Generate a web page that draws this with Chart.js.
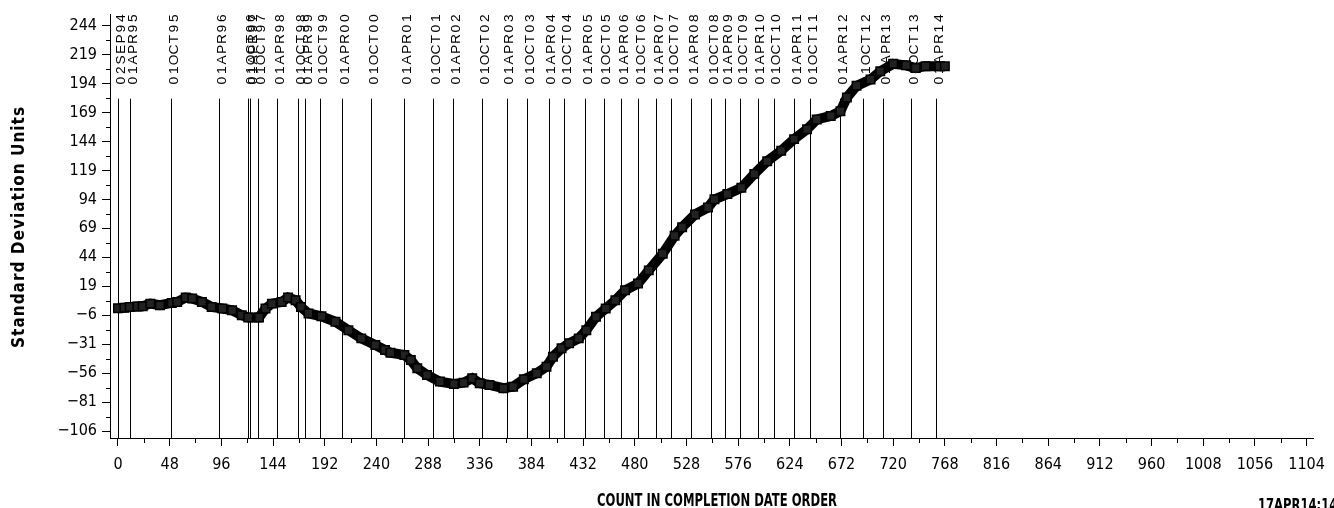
<!DOCTYPE html>
<html>
<head>
<meta charset="utf-8">
<script src="https://cdn.jsdelivr.net/npm/chart.js@4.4.0/dist/chart.umd.min.js"></script>
<style>
  html, body { margin: 0; padding: 0; background: #fff; overflow: hidden; }
  #wrap { position: relative; width: 1334px; height: 508px; }
</style>
</head>
<body>
<div id="wrap"><canvas id="c" width="1334" height="508"></canvas></div>
<script>
// Cumulative sum, in standard deviation units, by count in completion date order
const counts = [0, 6, 11, 18, 23, 30, 39, 50, 55, 63, 69, 78, 87, 97, 106, 115, 121, 131, 137, 143,
  152, 158, 165, 170, 177, 189, 202, 214, 226, 239, 248, 253, 266, 272, 278, 287, 299, 312, 321, 329,
  336, 345, 358, 367, 377, 389, 398, 404, 412, 419, 428, 435, 444, 453, 462, 471, 483, 493, 506, 517,
  524, 536, 548, 554, 566, 579, 591, 603, 616, 628, 640, 649, 662, 671, 677, 686, 699, 708, 720, 732,
  741, 750, 763, 768];
const values = [0, 0.5, 1, 1.5, 1.7, 4, 2.6, 4.6, 5.5, 9.2, 8.4, 5.5, 1.1, -0.2, -1.7, -6, -8, -8, -0.2, 4,
  5.5, 9.2, 6.9, 1.1, -4.5, -6.9, -11.7, -18.9, -26, -31.8, -36, -38.4, -40.4, -44.7, -51.8, -57.6, -63.3, -65.3, -64.2, -60.4,
  -64.7, -66.2, -69, -67.7, -61.3, -56.1, -50.5, -41.9, -34.6, -30.3, -26, -18.9, -7.4, -0.2, 6.9, 15.5, 21.3, 32.7, 47, 62.6,
  70, 81, 87, 94, 98.6, 104, 116, 127, 136, 146, 154.5, 163, 166, 170, 182, 192, 197.5, 204.6, 211, 209.7,
  207.4, 209, 209, 209];

// Reference dates: first count on or after each date
const eventCounts = [0, 11, 49, 94, 121, 123, 130, 148, 167, 174, 188, 208, 235, 266, 293, 311, 338, 361,
  380, 400, 414, 434, 451, 467, 483, 500, 514, 532, 551, 564, 578, 594, 609, 628, 643, 671, 692, 711, 737, 760];
const eventLabels = ['02SEP94', '01APR95', '01OCT95', '01APR96', '01OCT96', '01APR97', '01OCT97', '01APR98',
  '01OCT98', '01APR99', '01OCT99', '01APR00', '01OCT00', '01APR01', '01OCT01', '01APR02', '01OCT02', '01APR03',
  '01OCT03', '01APR04', '01OCT04', '01APR05', '01OCT05', '01APR06', '01OCT06', '01APR07', '01OCT07', '01APR08',
  '01OCT08', '01APR09', '01OCT09', '01APR10', '01OCT10', '01APR11', '01OCT11', '01APR12', '01OCT12', '01APR13',
  '01OCT13', '01APR14'];

const yTicks = [-106, -81, -56, -31, -6, 19, 44, 69, 94, 119, 144, 169, 194, 219, 244];
const xTicks = [0, 48, 96, 144, 192, 240, 288, 336, 384, 432, 480, 528, 576, 624, 672, 720, 768, 816, 864,
  912, 960, 1008, 1056, 1104];

const yTitle = 'Standard Deviation Units';
const xTitle = 'COUNT IN COMPLETION DATE ORDER';
const stamp = '17APR14:14:02';

const NARROW = "'Liberation Sans Narrow', 'DejaVu Sans Condensed', 'Liberation Sans', sans-serif";

// Draws a string one glyph at a time, spread to a given overall length
function spreadText(ctx, text, length) {
  const widths = [...text].map(ch => ctx.measureText(ch).width);
  const natural = widths.reduce((a, b) => a + b, 0);
  const gap = (length - natural) / (text.length - 1);
  let x = 0;
  [...text].forEach((ch, i) => {
    ctx.fillText(ch, x, 0);
    x += widths[i] + gap;
  });
}

// Draws a string squeezed or stretched horizontally to a given length
function fitText(ctx, text, length) {
  const w = ctx.measureText(text).width;
  ctx.scale(length / w, 1);
  ctx.fillText(text, 0, 0);
}

const minorTicks = {
  id: 'minorTicks',
  afterDraw(chart) {
    const ctx = chart.ctx;
    const xs = chart.scales.x, ys = chart.scales.y;
    ctx.save();
    ctx.strokeStyle = '#000';
    ctx.lineWidth = 1;
    ctx.beginPath();
    for (let i = 0; i < yTicks.length - 1; i++) {
      const py = Math.round(ys.getPixelForValue((yTicks[i] + yTicks[i + 1]) / 2)) + 0.5;
      ctx.moveTo(chart.chartArea.left - 4, py);
      ctx.lineTo(chart.chartArea.left, py);
    }
    for (let i = 0; i < xTicks.length - 1; i++) {
      const px = Math.round(xs.getPixelForValue((xTicks[i] + xTicks[i + 1]) / 2)) + 0.5;
      ctx.moveTo(px, chart.chartArea.bottom);
      ctx.lineTo(px, chart.chartArea.bottom + 5);
    }
    ctx.stroke();

    // axis titles and time stamp
    ctx.fillStyle = '#000';
    ctx.textBaseline = 'alphabetic';
    ctx.textAlign = 'left';

    ctx.save();
    ctx.font = 'bold 17px ' + NARROW;
    ctx.translate(24, 348);
    ctx.rotate(-Math.PI / 2);
    spreadText(ctx, yTitle, 241);
    ctx.restore();

    ctx.save();
    ctx.font = 'bold 17px ' + NARROW;
    ctx.translate(597, 506);
    fitText(ctx, xTitle, 240);
    ctx.restore();

    ctx.save();
    ctx.font = 'bold 15px ' + NARROW;
    ctx.translate(1258, 510);
    fitText(ctx, stamp, 100);
    ctx.restore();

    ctx.restore();
  }
};

const dateLines = {
  id: 'dateLines',
  beforeDatasetsDraw(chart) {
    const ctx = chart.ctx;
    const xs = chart.scales.x;
    const area = chart.chartArea;
    ctx.save();
    ctx.strokeStyle = '#000';
    ctx.lineWidth = 1;
    ctx.beginPath();
    eventCounts.forEach(c => {
      const px = Math.round(xs.getPixelForValue(c)) + 0.5;
      ctx.moveTo(px, area.top + 84);
      ctx.lineTo(px, area.bottom);
    });
    ctx.stroke();

    ctx.fillStyle = '#000';
    ctx.font = '12px "Liberation Sans", Arial, sans-serif';
    ctx.textAlign = 'center';
    ctx.textBaseline = 'alphabetic';
    eventCounts.forEach((c, k) => {
      const px = xs.getPixelForValue(c) + 2.5;
      ctx.save();
      ctx.translate(px, area.top + 71);
      ctx.rotate(-Math.PI / 2);
      [...eventLabels[k]].forEach((ch, i) => {
        ctx.save();
        ctx.translate(5 + i * 10.4, 4.3);
        ctx.scale(1.15, 1);
        ctx.fillText(ch, 0, 0);
        ctx.restore();
      });
      ctx.restore();
    });
    ctx.restore();
  }
};

const tickFont = { family: NARROW, size: 16 };

new Chart(document.getElementById('c'), {
  type: 'scatter',
  data: {
    datasets: [{
      data: counts.map((c, i) => ({ x: c, y: values[i] })),
      showLine: true,
      borderColor: '#000',
      borderWidth: 10,
      pointStyle: 'rect',
      pointRadius: 6,
      pointBackgroundColor: '#222',
      pointBorderColor: '#000',
      pointBorderWidth: 1.5
    }]
  },
  options: {
    responsive: false,
    animation: false,
    devicePixelRatio: 1,
    layout: { padding: { top: 13, right: 11, left: 0, bottom: 0 } },
    plugins: { legend: { display: false }, tooltip: { enabled: false } },
    scales: {
      x: {
        type: 'linear',
        min: -7.4,
        max: 1110.6,
        afterBuildTicks: s => { s.ticks = xTicks.map(v => ({ value: v })); },
        afterFit: s => { s.height = 70; },
        ticks: { autoSkip: false, maxRotation: 0, color: '#000', font: tickFont, padding: 9,
          callback: v => String(v) },
        grid: { drawOnChartArea: false, drawTicks: true, tickLength: 8, tickColor: '#000', color: '#000' },
        border: { display: true, color: '#000', width: 1 }
      },
      y: {
        type: 'linear',
        min: -112,
        max: 253.5,
        afterBuildTicks: s => { s.ticks = yTicks.map(v => ({ value: v })); },
        afterFit: s => { s.width = 110; },
        ticks: { autoSkip: false, color: '#000', font: tickFont, padding: 5,
          callback: v => String(v).replace('-', '\u2212') },
        grid: { drawOnChartArea: false, drawTicks: true, tickLength: 8, tickColor: '#000', color: '#000' },
        border: { display: true, color: '#000', width: 1 }
      }
    }
  },
  plugins: [dateLines, minorTicks]
});
</script>
</body>
</html>
